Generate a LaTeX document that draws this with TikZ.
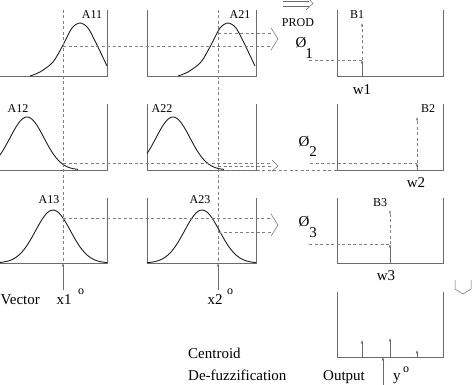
\documentclass[tikz,border=0pt]{standalone}
\usepackage{fontspec}
\setmainfont{Liberation Serif}
\usetikzlibrary{arrows.meta}
\definecolor{framegray}{gray}{0.42}
\definecolor{dashgray}{gray}{0.5}
\definecolor{curvegray}{gray}{0.12}
\begin{document}
\begin{tikzpicture}[x=1pt,y=-1pt,
    frame/.style={draw=framegray,line width=0.7pt},
    curve/.style={draw=curvegray,line width=0.9pt},
    guide/.style={draw=dashgray,dash pattern=on 3pt off 2.5pt,line width=0.5pt},
    tip/.style={-{Stealth[length=4pt,width=2.4pt]}},
    lbl/.style={font=\fontsize{12}{12}\selectfont,inner sep=0pt},
    biglbl/.style={font=\fontsize{15}{15}\selectfont,inner sep=0pt}]
    \useasboundingbox (0,0) rectangle (474,385);

    % Frames (open at the top)
    \foreach \t/\b in {10/76,104/170,198/263}{
        \draw[frame] (-5,\t) -- (-5,\b) -- (107,\b) -- (107,\t);
        \draw[frame] (147,\t) -- (147,\b) -- (256,\b) -- (256,\t);
        \draw[frame] (337,\t) -- (337,\b) -- (443,\b) -- (443,\t);
    }
    \draw[frame] (337,292) -- (337,357) -- (443,357) -- (443,292);

    % Membership functions
    \draw[curve] plot[smooth] coordinates {(30,76) (40,72) (53,62) (63,45) (72,28) (80,23) (88,28) (97,45) (107,66)};
    \draw[curve] plot[smooth] coordinates {(178,76) (188,72) (201,62) (211,45) (220,28) (228,23) (236,28) (245,45) (255,66)};
    \draw[curve] plot[domain=-5:78,samples=50] (\x,{170-53*exp(-((\x-27)^2)/578)});
    \draw[curve] plot[domain=147:224,samples=50] (\x,{170-53*exp(-((\x-173)^2)/578)});
    \draw[curve] plot[domain=0:107,samples=50] (\x,{263-53*exp(-((\x-53)^2)/612)});
    \draw[curve] plot[domain=147:256,samples=50] (\x,{263-53*exp(-((\x-202)^2)/612)});
    \node[lbl] (a11) at (92,15) {A11};
    \node[lbl] (a21) at (240,15) {A21};
    \node[lbl] (a12) at (18,109) {A12};
    \node[lbl] (a22) at (162,109) {A22};
    \node[lbl] (a13) at (49,200) {A13};
    \node[lbl] (a23) at (200,200) {A23};

    % Crisp inputs
    \coordinate (x1top) at (63,10);
    \coordinate (x1foot) at (63,263);
    \coordinate (x1in) at (63,290);
    \coordinate (x2top) at (218,10);
    \coordinate (x2foot) at (218,263);
    \coordinate (x2in) at (218,290);
    \draw[guide] (x1top) -- (x1foot);
    \draw[guide] (x2top) -- (x2foot);
    \draw[frame,tip] (x1in) -- (x1foot);
    \draw[frame,tip] (x2in) -- (x2foot);
    \node[biglbl,anchor=west] (vec) at (0.5,300) {Vector};
    \node[biglbl] (x1) at (64,300) {x1};
    \node[lbl] (x1o) at (81,292) {o};
    \node[biglbl] (x2) at (215,300) {x2};
    \node[lbl] (x2o) at (230,292) {o};

    % Membership grades to the min
    \draw[guide] (63,46) -- (272,46);
    \draw[guide] (218,33) -- (272,33);
    \draw[frame,line width=0.5pt] (271,28) -- (278,39) -- (271,50);
    \draw[guide] (63,163) -- (272,163);
    \draw[guide] (218,166.5) -- (272,166.5);
    \draw[guide] (218,170.5) -- (337,170.5);
    \draw[frame,line width=0.5pt] (272,160) -- (278,166) -- (272,171);
    \draw[guide] (63,218) -- (272,218);
    \draw[guide] (218,232) -- (272,232);
    \draw[frame,line width=0.5pt] (271,214) -- (278,225) -- (271,236);

    % Product operator
    \draw[frame,line width=0.5pt] (283,1) -- (309,1);
    \draw[frame,line width=0.5pt] (283,6) -- (309,6);
    \draw[frame,line width=0.5pt] (306,-4) -- (313,3.5) -- (306,10);
    \node[lbl] (prod) at (298,23) {PROD};

    % Firing strengths
    \node[biglbl] (phi1) at (301,43) {Ø};
    \node[biglbl] (sub1) at (309,54) {1};
    \node[biglbl] (phi2) at (304,142) {Ø};
    \node[biglbl] (sub2) at (313,152) {2};
    \node[biglbl] (phi3) at (304,222) {Ø};
    \node[biglbl] (sub3) at (313,233) {3};

    % Scaled singletons
    \coordinate (w1foot) at (362,76);
    \coordinate (w1) at (362,60);
    \coordinate (b1) at (362,23);
    \draw[guide] (309,60) -- (w1);
    \draw[frame,tip] (w1foot) -- (w1);
    \draw[guide,tip] (w1) -- (b1);
    \node[lbl] (b1lbl) at (357,15) {B1};
    \node[biglbl] (w1lbl) at (362,90) {w1};

    \coordinate (w2foot) at (417,170);
    \coordinate (w2) at (417,163);
    \coordinate (b2) at (417,117);
    \draw[guide] (310,163) -- (w2);
    \draw[frame,tip] (w2foot) -- (w2);
    \draw[guide,tip] (w2) -- (b2);
    \node[lbl] (b2lbl) at (428,109) {B2};
    \node[biglbl] (w2lbl) at (416,183) {w2};

    \coordinate (w3foot) at (390,263);
    \coordinate (w3) at (390,244);
    \coordinate (b3) at (390,210);
    \draw[guide] (309,244) -- (w3);
    \draw[frame,tip] (w3foot) -- (w3);
    \draw[guide,tip] (w3) -- (b3);
    \node[lbl] (b3lbl) at (380,203) {B3};
    \node[biglbl] (w3lbl) at (386,276) {w3};

    % Down to the output
    \draw[frame,line width=0.5pt] (455,280) -- (455,289) -- (463,294) -- (471,289) -- (471,280);

    % Centroid
    \draw[frame,tip] (362,357) -- (362,340);
    \draw[frame,tip] (390,357) -- (390,338);
    \draw[frame,tip] (417,357) -- (417,350);
    \coordinate (yout) at (383,357);
    \coordinate (yin) at (383,390);
    \draw[frame,tip] (yin) -- (yout);
    \node[biglbl,anchor=base west] (cen) at (188,358) {Centroid};
    \node[biglbl,anchor=base west] (defuz) at (188,380) {De-fuzzification};
    \node[biglbl,anchor=base west] (out) at (323,380) {Output};
    \node[biglbl,anchor=base west] (y) at (393,380) {y};
    \node[lbl] (yo) at (406,370) {o};
\end{tikzpicture}
\end{document}
